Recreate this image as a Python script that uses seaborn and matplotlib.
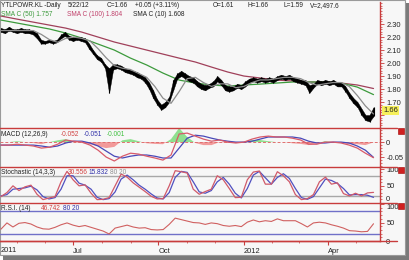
import numpy as np
import pandas as pd
import matplotlib
matplotlib.use("Agg")
import matplotlib.pyplot as plt
from matplotlib.lines import Line2D
from matplotlib.patches import Rectangle
from matplotlib.ticker import MultipleLocator
import matplotlib.dates as mdates
import seaborn as sns

# ---------------- data ----------------
start_date = "2011-04-14"
end_date = "2012-05-20"

price_high = [2.27, 2.26, 2.28, 2.26, 2.26, 2.27, 2.26, 2.26, 2.25, 2.23,
              2.18, 2.17, 2.18, 2.17, 2.18, 2.22, 2.24, 2.21, 2.20, 2.20,
              2.20, 2.19, 2.15, 2.10, 2.06, 2.04, 1.99, 1.96, 1.99, 1.99,
              1.98, 1.96, 1.95, 1.94, 1.93, 1.91, 1.89, 1.85, 1.79, 1.72,
              1.68, 1.70, 1.74, 1.87, 1.92, 1.94, 1.92, 1.90, 1.89, 1.86,
              1.84, 1.83, 1.84, 1.86, 1.90, 1.87, 1.83, 1.82, 1.82, 1.84,
              1.83, 1.86, 1.88, 1.89, 1.88, 1.89, 1.88, 1.89, 1.88, 1.90,
              1.91, 1.90, 1.91, 1.89, 1.88, 1.87, 1.87, 1.83, 1.84, 1.87,
              1.86, 1.87, 1.86, 1.87, 1.85, 1.85, 1.82, 1.77, 1.73, 1.70,
              1.65, 1.60, 1.60, 1.66]
price_low = [2.24, 2.23, 2.25, 2.24, 2.23, 2.24, 2.23, 2.23, 2.22, 2.19,
             2.15, 2.15, 2.16, 2.15, 2.16, 2.19, 2.21, 2.18, 2.17, 2.18,
             2.17, 2.16, 2.11, 2.07, 2.03, 2.01, 1.96, 1.77, 1.95, 1.96,
             1.95, 1.93, 1.92, 1.91, 1.89, 1.88, 1.85, 1.80, 1.73, 1.68,
             1.64, 1.66, 1.70, 1.79, 1.88, 1.90, 1.88, 1.86, 1.85, 1.82,
             1.80, 1.79, 1.81, 1.82, 1.86, 1.83, 1.79, 1.78, 1.79, 1.81,
             1.80, 1.82, 1.85, 1.86, 1.85, 1.86, 1.85, 1.86, 1.85, 1.87,
             1.88, 1.87, 1.88, 1.86, 1.85, 1.84, 1.83, 1.77, 1.81, 1.84,
             1.83, 1.84, 1.83, 1.84, 1.82, 1.82, 1.78, 1.73, 1.69, 1.66,
             1.60, 1.56, 1.55, 1.59]

sma10 = [2.25, 2.25, 2.25, 2.25, 2.25, 2.22, 2.18, 2.16, 2.19, 2.20,
         2.19, 2.17, 2.11, 2.04, 1.98, 1.96, 1.95, 1.92, 1.89, 1.82,
         1.73, 1.69, 1.78, 1.88, 1.89, 1.85, 1.82, 1.84, 1.84, 1.81,
         1.82, 1.85, 1.87, 1.87, 1.88, 1.89, 1.89, 1.88, 1.85, 1.83,
         1.84, 1.85, 1.85, 1.82, 1.75, 1.67, 1.608]
sma50 = [2.331, 2.308, 2.285, 2.262, 2.231, 2.192, 2.146, 2.100, 2.038, 1.985,
         1.923, 1.869, 1.846, 1.831, 1.823, 1.831, 1.838, 1.846, 1.854, 1.854,
         1.854, 1.846, 1.815, 1.757]
sma100 = [2.362, 2.338, 2.315, 2.292, 2.269, 2.238, 2.200, 2.162, 2.131, 2.100,
          2.069, 2.038, 2.008, 1.969, 1.931, 1.900, 1.885, 1.869, 1.862, 1.854,
          1.854, 1.846, 1.831, 1.804]

macd_line = [-0.010, -0.010, -0.007, -0.010, -0.013, -0.020, -0.017, -0.007, 0.007, 0.003,
             0.000, -0.010, -0.027, -0.050, -0.063, -0.047, -0.037, -0.040, -0.047, -0.053,
             -0.060, -0.043, 0.027, 0.030, 0.020, 0.010, 0.003, 0.007, 0.000, -0.003,
             0.000, 0.010, 0.017, 0.020, 0.017, 0.017, 0.013, 0.007, -0.007, -0.007,
             0.000, 0.000, -0.003, -0.010, -0.020, -0.037, -0.052]
macd_signal = [-0.010, -0.010, -0.010, -0.010, -0.010, -0.013, -0.017, -0.013, -0.003, 0.003,
               0.003, -0.003, -0.013, -0.030, -0.047, -0.053, -0.047, -0.043, -0.043, -0.047,
               -0.053, -0.053, -0.020, 0.013, 0.023, 0.020, 0.013, 0.007, 0.003, 0.000,
               0.000, 0.003, 0.010, 0.017, 0.017, 0.017, 0.017, 0.013, 0.003, -0.003,
               -0.003, 0.000, 0.000, -0.003, -0.013, -0.027, -0.051]

stoch_k = [18, 30, 50, 36, 47, 52, 25, 9, 14, 18,
           62, 93, 68, 50, 53, 28, 9, 10, 15, 50,
           85, 76, 59, 46, 33, 19, 11, 12, 50, 95,
           92, 88, 40, 25, 33, 40, 80, 68, 42, 15,
           16, 68, 91, 94, 55, 55, 92, 80, 62, 24,
           9, 12, 24, 62, 76, 55, 59, 27, 20, 28,
           20, 29, 30.556]
stoch_d = [20, 24, 40, 42, 44, 49, 38, 18, 11, 15,
           40, 80, 80, 58, 52, 40, 16, 9, 12, 32,
           70, 82, 68, 52, 40, 26, 14, 11, 30, 75,
           93, 90, 62, 32, 28, 36, 62, 75, 55, 28,
           14, 42, 82, 93, 74, 55, 75, 86, 72, 42,
           15, 10, 18, 44, 70, 66, 57, 42, 23, 24,
           24, 22, 15.832]

rsi = [32, 49, 38, 48, 50, 46, 38, 33, 32, 37,
       44, 49, 43, 39, 42, 37, 32, 27, 19, 35,
       39, 43, 38, 35, 36, 31, 30, 31, 45, 62,
       58, 54, 50, 49, 45, 49, 47, 42, 40, 42,
       39, 51, 57, 52, 55, 53, 60, 55, 55, 55,
       47, 38, 49, 51, 49, 44, 40, 35, 28, 27,
       25, 26, 46.742]

tick_dates = ["2011-07-01", "2011-10-01", "2012-01-01", "2012-04-01"]
tick_labels = ["Jul", "Oct", "2012", "Apr"]

# ---------------- style ----------------
sns.set_style("white")
plt.rcParams['font.family'] = ['Liberation Sans', 'DejaVu Sans']

W, H = 409, 260
BG = "#f7f7f7"
RED = "#c83c3c"
TXT = "#222222"
FS = 4.7

fig = plt.figure(figsize=(W / 100, H / 100), dpi=100)
fig.patch.set_facecolor("white")

# frame + shadow
fig.add_artist(Rectangle((3 / W, 0), (W - 3) / W, 1 - 3 / H, transform=fig.transFigure,
                         facecolor="#7a7a7a", edgecolor="none", zorder=-3))
fig.add_artist(Rectangle((0, 5 / H), (W - 4) / W, 1 - 5 / H, transform=fig.transFigure,
                         facecolor=BG, edgecolor="#9a9a9a", lw=0.8, zorder=-2))

x_lo, x_hi = pd.Timestamp("2011-04-13"), pd.Timestamp("2012-05-27")


def dates_for(values):
    return pd.date_range(start_date, end_date, periods=len(values))


def px_axes(y0, y1):
    return fig.add_axes([0, 1 - y1 / H, 380 / W, (y1 - y0) / H])


def style(ax, ylim, major, labels, minor):
    ax.set_facecolor("none")
    ax.set_xlim(x_lo, x_hi)
    ax.set_ylim(*ylim)
    ax.yaxis.tick_right()
    ax.set_yticks(major)
    ax.set_yticklabels(labels)
    ax.yaxis.set_minor_locator(MultipleLocator(minor))
    ax.tick_params(axis="y", which="major", colors=RED, labelcolor=TXT, length=3,
                   width=0.6, labelsize=5.4, pad=1.5, right=True, left=False)
    ax.tick_params(axis="y", which="minor", colors=RED, length=1.5, width=0.5, right=True)
    for s in ["left", "top", "bottom"]:
        ax.spines[s].set_visible(False)
    ax.spines["right"].set_color(RED)
    ax.spines["right"].set_linewidth(1.0)
    ax.set_xlabel("")
    ax.set_ylabel("")
    ax.set_xticks([])


def header(x, y, s, color=TXT):
    fig.text(x / W, 1 - y / H, s, fontsize=FS, color=color, va="center")


# ---------------- price panel ----------------
axp = px_axes(2, 128)
d = dates_for(price_high)
axp.fill_between(d, price_low, price_high, color="black", lw=0.3, zorder=3)
axp.vlines(d, price_low, price_high, color="black", lw=0.8, zorder=3)
sns.lineplot(x=dates_for(sma100), y=sma100, ax=axp, color="#a0405a", lw=0.9, zorder=2)
sns.lineplot(x=dates_for(sma50), y=sma50, ax=axp, color="#3c9a3c", lw=0.9, zorder=2)
sns.lineplot(x=dates_for(sma10), y=sma10, ax=axp, color="#8c8c8c", lw=0.9, zorder=4)
style(axp, (1.50, 2.47), [1.6, 1.7, 1.8, 1.9, 2.0, 2.1, 2.2, 2.3],
      ["", "1.70", "1.80", "1.90", "2.00", "2.10", "2.20", "2.30"], 0.02)
axp.text(1.008, 1.66, "1.66", transform=axp.get_yaxis_transform(), fontsize=5.4,
         color=TXT, va="top", ha="left",
         bbox=dict(boxstyle="square,pad=0.15", fc="#f6f05a", ec="none"))

header(1, 5.5, "YTLPOWR.KL -Daily")
header(68, 5.5, "5/22/12")
header(107, 5.5, "C=1.66")
header(135, 5.5, "+0.05 (+3.11%)")
header(213, 5.5, "O=1.61")
header(248, 5.5, "H=1.66")
header(283, 5.5, "L=1.59")
header(310, 5.5, "V=2,497.6")
header(1, 15, "SMA C (50) 1.757", "#3c9a3c")
header(67, 15, "SMA C (100) 1.804", "#c0406a")
header(133, 15, "SMA C (10) 1.608")

# ---------------- MACD ----------------
axm = px_axes(128, 167)
dm = dates_for(macd_line)
hist = np.array(macd_line) - np.array(macd_signal)
axm.fill_between(dm, 0, hist, where=hist >= 0, interpolate=True, color="#8fe08f", lw=0, zorder=1)
axm.fill_between(dm, 0, hist, where=hist < 0, interpolate=True, color="#f29a9a", lw=0, zorder=1)
axm.axhline(0, color="#e07070", lw=0.7, ls=(0, (3, 2)), zorder=1)
sns.lineplot(x=dm, y=macd_signal, ax=axm, color="#4848b8", lw=0.9, zorder=3)
sns.lineplot(x=dm, y=macd_line, ax=axm, color="#d85a6a", lw=0.9, zorder=3)
style(axm, (-0.083, 0.047), [-0.05, 0], ["-0.05", "0"], 0.01)
header(1, 134, "MACD (12,26,9)")
header(61, 134, "-0.052", "#d04040")
header(84, 134, "-0.051", "#3030a8")
header(107, 134, "-0.001", "#40c040")

# ---------------- Stochastic ----------------
axs = px_axes(167, 203)
ds = dates_for(stoch_k)
axs.axhline(80, color="#a8a8a8", lw=1.0, zorder=1)
axs.axhline(20, color="#a8a8a8", lw=1.0, zorder=1)
sns.lineplot(x=ds, y=stoch_d, ax=axs, color="#5050c0", lw=0.9, zorder=3)
sns.lineplot(x=ds, y=stoch_k, ax=axs, color="#d05a6a", lw=0.9, zorder=3)
style(axs, (-1, 106), [0, 50, 100], ["0", "50", "100"], 10)
axs.get_yticklabels()[0].set_va("bottom")
header(1, 172, "Stochastic (14,3,3)")
header(68, 172, "30.556", "#d04040")
header(89, 172, "15.832", "#3030a8")
header(110, 172, "80 20", "#909090")

# ---------------- RSI ----------------
axr = px_axes(203, 241)
dr = dates_for(rsi)
axr.axhline(80, color="#7070c8", lw=1.0, zorder=1)
axr.axhline(20, color="#7070c8", lw=1.0, zorder=1)
sns.lineplot(x=dr, y=rsi, ax=axr, color="#d06060", lw=0.8, zorder=3)
style(axr, (0, 103), [0, 50, 100], ["0", "50", "100"], 10)
axr.get_yticklabels()[2].set_va("top")
header(1, 209, "R.S.I. (14)")
header(41, 209, "46.742", "#d04040")
header(63, 209, "80 20", "#3030a8")

# bottom date axis
axr.spines["bottom"].set_visible(True)
axr.spines["bottom"].set_color(RED)
axr.spines["bottom"].set_linewidth(1.0)
axr.set_xticks(pd.to_datetime(tick_dates))
axr.set_xticklabels(tick_labels, ha="left")
axr.xaxis.set_minor_locator(mdates.MonthLocator())
axr.tick_params(axis="x", which="major", colors=RED, labelcolor=TXT, length=3, width=0.8,
                labelsize=5.4, pad=2, bottom=True)
axr.tick_params(axis="x", which="minor", colors=RED, length=1.5, width=0.5, bottom=True)
fig.text(1 / W, 1 - 250 / H, "2011", fontsize=5.4, color=TXT, va="center")

# panel separators running into the scale area
for yy in (128, 167, 203, 241):
    fig.add_artist(Line2D([0, 397 / W], [1 - yy / H, 1 - yy / H], color=RED, lw=1.0,
                          transform=fig.transFigure))
for yy in (128, 167, 203):
    fig.add_artist(Rectangle((398 / W, 1 - (yy + 6) / H), 6 / W, 6 / H, transform=fig.transFigure,
                             facecolor="#d02020", edgecolor="#a00000", lw=0.4))

fig.savefig("out.png", dpi=100, facecolor=fig.get_facecolor())
